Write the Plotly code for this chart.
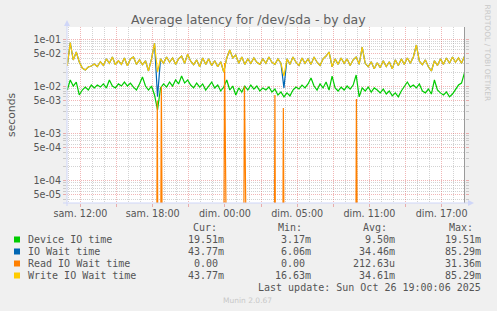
import plotly.graph_objects as go

# ---------------- data ----------------
# time in hours relative to "sam. 12:00" (uniform clock; labels show local time, DST ends at night)
t_start = -1.1
t_step = 0.25

# Device IO time (ms)
device_ms = [8.4, 13.7, 10.2, 12.4, 6.6, 8.4, 9.7, 8.4, 10.7, 9.3,
             10.7, 9.7, 11.3, 9.3, 13.7, 10.2, 9.3, 11.3, 10.2, 12.4,
             10.2, 11.8, 9.7, 8.4, 11.3, 15.9, 10.2, 8.4, 10.2, 6.6,
             3.17, 9.3, 11.3, 9.7, 12.4, 10.2, 13.7, 11.3, 16.6, 11.8,
             13.7, 10.7, 9.3, 11.8, 9.7, 11.3, 8.4, 10.2, 12.4, 9.3,
             10.7, 8.0, 9.7, 13.7, 8.4, 10.2, 6.6, 9.3, 7.6, 10.2,
             8.4, 10.7, 8.8, 10.2, 8.0, 9.3, 8.4, 9.7, 7.6, 8.8,
             6.6, 7.6, 6.0, 7.3, 6.3, 8.4, 9.7, 8.8, 10.7, 9.3,
             11.3, 15.1, 10.2, 8.4, 11.3, 9.3, 12.4, 8.4, 16.6, 9.3,
             8.0, 9.7, 8.4, 10.2, 8.8, 10.7, 17.5, 6.0, 9.3, 8.0,
             9.7, 7.6, 9.3, 8.4, 7.3, 8.8, 6.9, 8.0, 6.3, 7.3,
             6.0, 8.0, 10.2, 12.4, 9.7, 10.7, 9.3, 11.3, 8.0, 7.3,
             8.8, 6.9, 13.7, 8.4, 7.3, 6.6, 7.6, 6.0, 6.9, 8.8,
             10.7, 11.8, 19.51]

# Write IO Wait time (ms)
write_ms = [27.1, 85.29, 36.4, 53.8, 33.0, 24.6, 22.3, 25.8, 27.1, 29.9,
            26.5, 33.4, 27.9, 38.4, 31.0, 42.1, 28.9, 35.0, 29.4, 40.2,
            27.5, 38.4, 42.1, 29.4, 36.6, 28.9, 35.0, 21.3, 38.4, 82.0,
            20.5, 38.4, 31.0, 42.1, 32.6, 40.2, 29.4, 38.4, 44.1, 31.0,
            48.4, 34.4, 28.9, 36.6, 26.1, 40.2, 29.4, 38.4, 27.9, 35.0,
            26.1, 33.4, 20.2, 40.1, 59.3, 40.1, 46.4, 31.0, 42.1, 29.4,
            38.4, 31.0, 40.2, 32.6, 29.4, 38.4, 31.0, 42.1, 32.6, 29.4,
            38.4, 31.0, 16.63, 38.4, 29.4, 42.1, 32.6, 27.9, 40.2, 31.0,
            38.4, 29.4, 42.1, 32.6, 27.9, 38.4, 44.1, 53.8, 26.1, 38.4,
            29.4, 40.2, 31.0, 38.4, 27.9, 36.6, 42.1, 29.4, 68.6, 31.0,
            26.1, 33.4, 23.6, 31.9, 25.1, 35.0, 26.5, 33.4, 23.6, 36.6,
            27.9, 38.4, 29.4, 40.2, 31.0, 42.1, 75.7, 34.4, 28.9, 36.6,
            26.1, 21.3, 35.0, 27.9, 38.4, 29.4, 40.2, 31.0, 42.1, 32.6,
            40.2, 31.0, 43.77]

# IO Wait time (ms): equal to write wait except where reads pulled it down
io_wait_changes = {30: 6.06, 72: 9.3}

# Read IO Wait time (ms): zero except short spikes
read_t = [-1.1, 6.28, 6.38, 6.48, 6.60, 6.72, 6.86, 11.85, 11.97, 12.25,
          13.50, 13.62, 13.92, 16.06, 16.15, 16.24, 16.76, 16.85, 16.98,
          22.82, 22.92, 23.07, 31.9]
read_ms = [0, 0, 5.0, 0, 0, 10.0, 0, 0, 31.36, 0,
           0, 10.0, 0, 0, 6.6, 0, 0, 3.5, 0,
           0, 5.4, 0, 0]

xtick_vals = [0, 3, 6, 9, 12, 15, 18, 21, 24, 27, 30]
xtick_text = ["sam. 12:00", "", "sam. 18:00", "", "dim. 00:00", "",
              "dim. 05:00", "", "dim. 11:00", "", "dim. 17:00"]
xminor_vals = [h for h in range(-1, 32) if h % 3 != 0]

ytick_vals = [1e-1, 5e-2, 1e-2, 5e-3, 1e-3, 5e-4, 1e-4, 5e-5]
ytick_text = ["1e-01", "5e-02", "1e-02", "5e-03", "1e-03", "5e-04", "1e-04", "5e-05"]
yminor_vals = [m * 10.0 ** e for e in range(-5, 0) for m in (2, 3, 4, 6, 7, 8, 9)]

series_names = ["Device IO time", "IO Wait time", "Read IO Wait time", "Write IO Wait time"]
series_colors = ["#00CC00", "#0066B3", "#FF8000", "#FFCC00"]
cur_txt = ["19.51m", "43.77m", "0.00", "43.77m"]
min_txt = ["3.17m", "6.06m", "0.00", "16.63m"]
avg_txt = ["9.50m", "34.46m", "212.63u", "34.61m"]
max_txt = ["19.51m", "85.29m", "31.36m", "85.29m"]

# ---------------- figure ----------------
W, H = 497, 311
L, R, T, B = 67, 32, 27, 108
PW, PH = W - L - R, H - T - B


def px(x):
    return (x - L) / PW


def py(y):
    return (H - B - y) / PH


t = [t_start + i * t_step for i in range(len(device_ms))]
io_wait_ms = [io_wait_changes.get(i, v) for i, v in enumerate(write_ms)]
FLOOR = 1e-9
LW = 1.2

fig = go.Figure()
fig.add_trace(go.Scatter(x=t, y=[v / 1000 for v in device_ms], mode="lines",
                         line=dict(color=series_colors[0], width=LW)))
fig.add_trace(go.Scatter(x=t, y=[v / 1000 for v in io_wait_ms], mode="lines",
                         line=dict(color=series_colors[1], width=LW)))
fig.add_trace(go.Scatter(x=read_t, y=[max(v / 1000, FLOOR) for v in read_ms], mode="lines",
                         line=dict(color=series_colors[2], width=LW)))
fig.add_trace(go.Scatter(x=t, y=[v / 1000 for v in write_ms], mode="lines",
                         line=dict(color=series_colors[3], width=LW)))

RED = "rgba(222,80,80,0.42)"
GRAY = "rgba(150,150,150,0.42)"
FONT = "#555555"

fig.update_xaxes(range=[-1.12, 31.94], tickmode="array", tickvals=xtick_vals, ticktext=xtick_text,
                 showgrid=True, gridcolor=RED, griddash="1px,1px", gridwidth=1,
                 ticks="outside", ticklen=3, tickcolor=RED, zeroline=False, showline=False,
                 ticklabelstandoff=-2,
                 tickfont=dict(family="DejaVu Sans", size=9.6, color=FONT),
                 minor=dict(tickmode="array", tickvals=xminor_vals, showgrid=True,
                            gridcolor=GRAY, griddash="1px,1px", gridwidth=1))
fig.update_yaxes(type="log", range=[-4.473, -0.739], tickmode="array",
                 tickvals=ytick_vals, ticktext=ytick_text,
                 showgrid=True, gridcolor=RED, griddash="1px,1px", gridwidth=1,
                 ticks="outside", ticklen=3, tickcolor=RED, zeroline=False, showline=False,
                 mirror="ticks",
                 tickfont=dict(family="DejaVu Sans", size=9.6, color=FONT),
                 minor=dict(tickmode="array", tickvals=yminor_vals, showgrid=True,
                            gridcolor=GRAY, griddash="1px,1px", gridwidth=1,
                            ticks="outside", ticklen=3, tickcolor=GRAY))

AX = "#CFD6F8"
shapes = [
    dict(type="line", xref="paper", yref="paper", x0=px(464.5), x1=px(464.5), y0=0, y1=1,
         line=dict(color="#9a9a9a", width=1), layer="above"),
    dict(type="line", xref="paper", yref="paper", x0=0, x1=0, y0=py(H - B + 3), y1=py(23),
         line=dict(color=AX, width=1), layer="above"),
    dict(type="line", xref="paper", yref="paper", x0=px(63), x1=px(469), y0=0, y1=0,
         line=dict(color=AX, width=1), layer="above"),
    dict(type="path", xref="paper", yref="paper",
         path=f"M {px(64)} {py(26)} L {px(70)} {py(26)} L {px(67)} {py(20)} Z",
         fillcolor=AX, line=dict(width=0), layer="above"),
    dict(type="path", xref="paper", yref="paper",
         path=f"M {px(468)} {py(200)} L {px(468)} {py(206)} L {px(474)} {py(203)} Z",
         fillcolor=AX, line=dict(width=0), layer="above"),
]

ann = []


def text(x, y, s, size=10, family="DejaVu Sans Mono", color=FONT, xanchor="left", angle=0):
    ann.append(dict(xref="paper", yref="paper", x=px(x), y=py(y), text=s, showarrow=False,
                    xanchor=xanchor, yanchor="middle", textangle=angle,
                    font=dict(family=family, size=size, color=color)))


text(248.3, 19.5, "Average latency for /dev/sda - by day", size=12.5, family="DejaVu Sans",
     xanchor="center", color="#606060")
text(11, 115, "seconds", size=10.8, family="DejaVu Sans", xanchor="center", angle=-90)
text(487.5, 53, "RRDTOOL / TOBI OETIKER", size=7.5, family="DejaVu Sans", color="#c8c8c8",
     xanchor="center", angle=90)

row_y = [239.5, 251.5, 263.5, 275.5]
text(190.7, 227.5, "Cur:")
text(275.7, 227.5, "Min:")
text(361.0, 227.5, "Avg:")
text(446.7, 227.5, "Max:")
col_right = [226.3, 313.0, 397.0, 482.5]
for i, name in enumerate(series_names):
    y = row_y[i]
    shapes.append(dict(type="rect", xref="paper", yref="paper", x0=px(14), x1=px(20),
                       y0=py(y + 3), y1=py(y - 3), fillcolor=series_colors[i],
                       line=dict(width=0)))
    text(26.3, y, name)
    for cx, col in zip(col_right, (cur_txt, min_txt, avg_txt, max_txt)):
        s = col[i]
        shift = 0 if s[-1].isalpha() else 6.02
        text(cx - shift, y, s, xanchor="right")

text(482.5, 287.5, "Last update: Sun Oct 26 19:00:06 2025", xanchor="right")
text(247.5, 300.5, "Munin 2.0.67", size=7.5, family="DejaVu Sans", color="#c8c8c8",
     xanchor="center")

fig.update_layout(width=W, height=H, margin=dict(l=L, r=R, t=T, b=B),
                  paper_bgcolor="#F0F0F0", plot_bgcolor="#FFFFFF", showlegend=False,
                  shapes=shapes, annotations=ann)

fig.write_html("out.html")
